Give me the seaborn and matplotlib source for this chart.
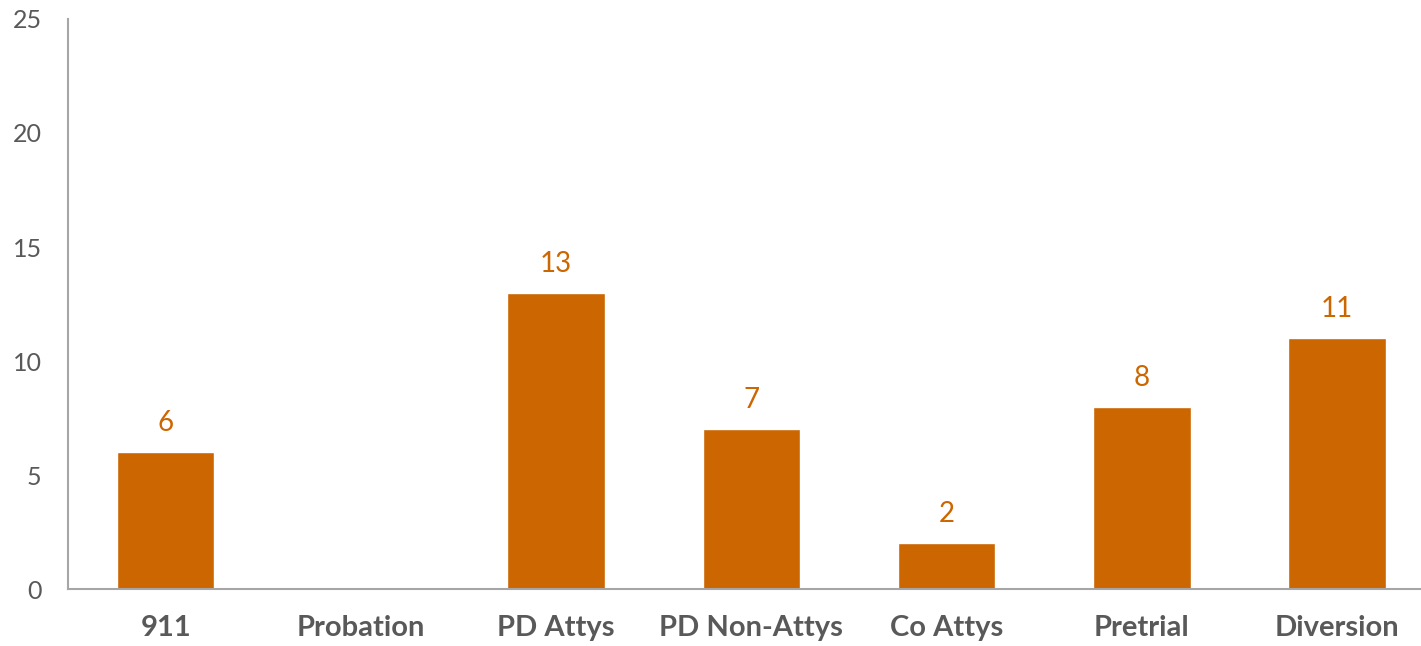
import matplotlib
matplotlib.use("Agg")
import matplotlib.pyplot as plt
import seaborn as sns
import pandas as pd

# Werte aus dem Diagramm
categories = ["911", "Probation", "PD Attys", "PD Non-Attys", "Co Attys", "Pretrial", "Diversion"]
counts = [6, 0, 13, 7, 2, 8, 11]
yticks = [0, 5, 10, 15, 20, 25]

df = pd.DataFrame({"Kategorie": categories, "Anzahl": counts})

sns.set_style("white")
plt.rcParams["font.family"] = ["Lato", "DejaVu Sans"]

fig = plt.figure(figsize=(14.21, 6.46), dpi=100)
ax = fig.add_axes([0.0479, 0.0882, 0.9521, 0.8824])

sns.barplot(data=df, x="Kategorie", y="Anzahl", color="#CC6600",
            width=0.5, saturation=1, ax=ax)

# Datenbeschriftungen (0 ohne Label)
for patch, v in zip(ax.patches, counts):
    if v == 0:
        continue
    ax.text(patch.get_x() + patch.get_width() / 2, v + 0.7, str(v),
            ha="center", va="bottom", color="#CC6600", fontsize=20)

ax.set_ylim(0, 25)
ax.set_xlim(-0.5, 6.43)
ax.set_yticks(yticks)
ax.set_xlabel("")
ax.set_ylabel("")
ax.tick_params(axis="both", length=0)
ax.tick_params(axis="y", labelsize=18, labelcolor="#595959", pad=19)
ax.tick_params(axis="x", labelsize=21, labelcolor="#595959", pad=19)
for lab in ax.get_xticklabels():
    lab.set_fontweight("bold")

for s in ["top", "right"]:
    ax.spines[s].set_visible(False)
for s in ["left", "bottom"]:
    ax.spines[s].set_color("#A6A6A6")
    ax.spines[s].set_linewidth(1.5)

fig.savefig("out.png", dpi=100)
plt.close(fig)
